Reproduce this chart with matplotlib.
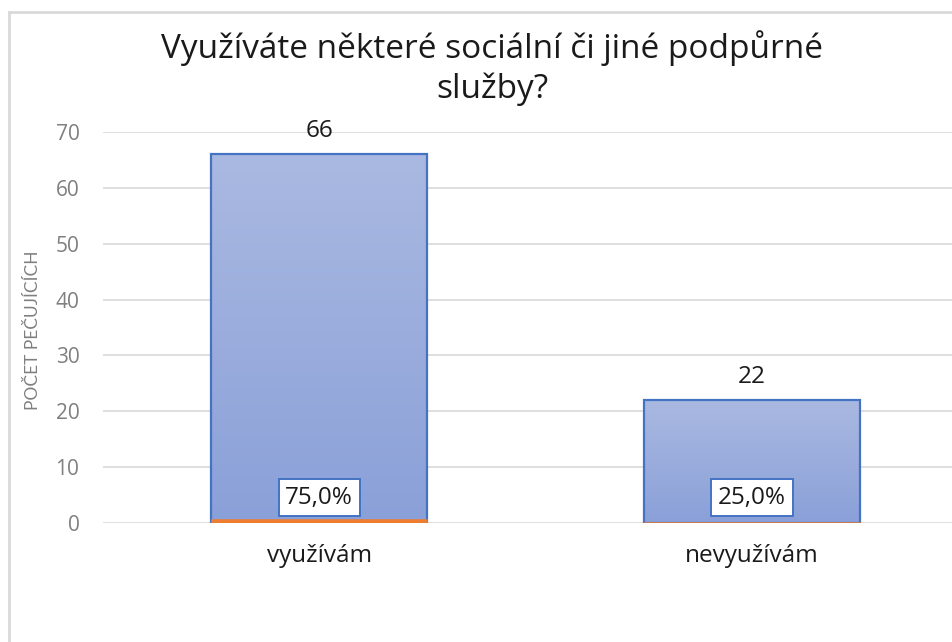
import matplotlib
matplotlib.use("Agg")
import matplotlib.pyplot as plt
import numpy as np
from matplotlib.lines import Line2D
from matplotlib.colors import LinearSegmentedColormap

categories = ["využívám", "nevyužívám"]
counts = [66, 22]
shares = [0.75, 0.25]
share_labels = ["75,0%", "25,0%"]
title = "Využíváte některé sociální či jiné podpůrné\nslužby?"
ylabel = "POČET PEČUJÍCÍCH"
yticks = [0, 10, 20, 30, 40, 50, 60, 70]

plt.rcParams['font.family'] = ['Open Sans', 'DejaVu Sans']

W, H = 953, 642
fig = plt.figure(figsize=(W / 100, H / 100), dpi=100)
ax = fig.add_axes([103 / W, 1 - 523 / H, (968 - 103) / W, (523 - 132) / H])

x = np.arange(len(categories))
bars = ax.bar(x, counts, width=0.5, color='none', edgecolor='#4472C4', linewidth=1.6, zorder=3)

cmap = LinearSegmentedColormap.from_list('g', ['#8AA0D8', '#AAB9E1'])
grad = np.linspace(0, 1, 256).reshape(-1, 1)
for b in bars:
    x0, y0 = b.get_x(), b.get_y()
    w, h = b.get_width(), b.get_height()
    im = ax.imshow(grad, cmap=cmap, aspect='auto', origin='lower',
                   extent=[x0, x0 + w, y0, y0 + h], zorder=2)
    im.set_clip_path(b)

ax.bar(x, shares, width=0.5, color='#ED7D31', edgecolor='#ED7D31', linewidth=0.4, zorder=4)

for xi, c in zip(x, counts):
    ax.annotate(str(c), (xi, c), xytext=(0, 17), textcoords='offset points',
                ha='center', va='center', fontsize=17.5, color='#1a1a1a')

for xi, lab in zip(x, share_labels):
    ax.text(xi, 4.55, lab, ha='center', va='center', fontsize=17.5, color='#1a1a1a', zorder=6,
            bbox=dict(boxstyle='square,pad=0.28', facecolor='white', edgecolor='#4472C4', linewidth=1.4))

ax.set_xlim(-0.5, 1.5)
ax.set_ylim(0, 70)
ax.set_yticks(yticks)
ax.set_yticklabels([str(t) for t in yticks], fontsize=15, color='#7f7f7f')
ax.set_xticks(x)
ax.set_xticklabels(categories, fontsize=17.5, color='#1a1a1a')
ax.tick_params(axis='both', length=0)
ax.tick_params(axis='y', pad=17)
ax.tick_params(axis='x', pad=15)
ax.grid(axis='y', color='#d9d9d9', linewidth=1.2, zorder=0)
ax.set_axisbelow(True)
for s in ax.spines.values():
    s.set_visible(False)
ax.patch.set_alpha(0)

fig.text(33 / W, 1 - 330 / H, ylabel, rotation=90, ha='center', va='center',
         fontsize=12.5, color='#7f7f7f', fontfamily=['Lato', 'DejaVu Sans'])
fig.text(492 / W, 1 - 68 / H, title, ha='center', va='center', fontsize=24,
         color='#1a1a1a', linespacing=1.24)

fig.add_artist(Line2D([9.5 / W, 9.5 / W], [0, 1 - 12 / H], color='#d9d9d9', linewidth=2, transform=fig.transFigure))
fig.add_artist(Line2D([9.5 / W, 1], [1 - 12 / H, 1 - 12 / H], color='#d9d9d9', linewidth=2, transform=fig.transFigure))

fig.savefig('out.png', dpi=100, facecolor='white')
